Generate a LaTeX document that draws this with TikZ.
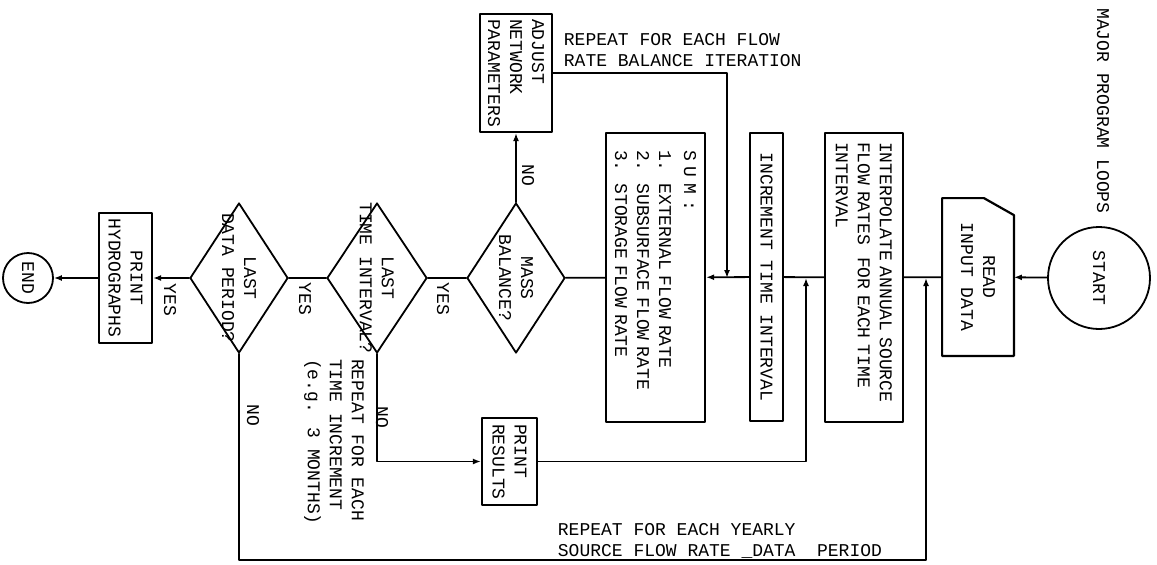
\documentclass[tikz,border=0pt]{standalone}
\usepackage{fontspec}
\setmainfont{Liberation Mono}
\usetikzlibrary{shapes.geometric,arrows.meta}

\begin{document}
\begin{tikzpicture}[x=1pt,y=-1pt,line cap=round,line join=round,
  font=\fontsize{18}{22}\selectfont,line width=1.8pt,
  arr/.style={-{Latex[length=8pt,width=6pt]}},
  vbox/.style={draw,rotate=-90,inner ysep=0pt,line width=2.2pt},
  decide/.style={draw,diamond,inner sep=0pt},
  term/.style={draw,circle,rotate=-90,inner sep=0pt},
  vtext/.style={rotate=-90,inner sep=0pt,align=center},
  note/.style={align=left,inner sep=0pt,anchor=west,font=\fontsize{18}{20.5}\selectfont}]
  \useasboundingbox (0,0) rectangle (1157,565);
  % main chain, right to left
  \node[term,minimum size=102pt] (start) at (1099,278) {START};
  \node[minimum width=70pt,minimum height=156pt,inner sep=0pt] (read) at (978,277) {};
  \draw[line width=2.2pt] (read.south west) -- (read.north west) -- ([xshift=-30pt]read.north east)
    -- ([yshift=-17pt]read.north east) -- (read.south east) -- cycle;
  \node[vtext] (readtxt) at (read) {READ\\INPUT DATA};
  \node[vbox,minimum width=289pt,minimum height=78pt,inner xsep=9pt,text width=271pt,align=left] (interp) at (864,277.5)
    {INTERPOLATE ANNUAL SOURCE\\FLOW RATES~~FOR EACH TIME\\INTERVAL};
  \node[vbox,minimum width=288pt,minimum height=33pt,align=center] (incr) at (766.5,277) {INCREMENT TIME INTERVAL};
  \node[vbox,minimum width=289pt,minimum height=99pt,inner xsep=17pt,text width=255pt,align=left] (sum) at (655.5,277.5)
    {S U M :\\[3pt]1.~~EXTERNAL FLOW RATE\\2.~~SUBSURFACE FLOW RATE\\3.~~STORAGE FLOW RATE};
  \node[decide,minimum width=98pt,minimum height=150pt] (mb) at (516,278) {};
  \node[vtext] (mbtxt) at (mb) {MASS\\BALANCE?};
  \node[vbox,minimum width=118pt,minimum height=72pt,inner xsep=5pt,text width=108pt,align=left] (adjust) at (516,73)
    {ADJUST\\NETWORK\\PARAMETERS};
  \node[decide,minimum width=100pt,minimum height=150pt] (lti) at (377,278) {};
  \node[vtext] (ltitxt) at (lti) {LAST\\TIME INTERVAL?};
  \node[decide,minimum width=98pt,minimum height=150pt] (ldp) at (239,278) {};
  \node[vtext] (ldptxt) at (ldp) {LAST\\DATA PERIOD?};
  \node[vbox,minimum width=130pt,minimum height=53pt,align=center] (hyd) at (125.5,278) {PRINT\\HYDROGRAPHS};
  \node[term,minimum size=50pt] (end) at (28,278) {END};
  \node[vbox,minimum width=87pt,minimum height=55pt,inner xsep=6pt,text width=75pt,align=left] (res) at (509.5,461.5)
    {PRINT\\RESULTS};
  % labels
  \node[vtext] (yes1) at (443,299) {YES};
  \node[vtext] (yes2) at (305,299) {YES};
  \node[vtext] (yes3) at (170,300) {YES};
  \node[vtext] (no1) at (528,175) {NO};
  \node[vtext] (no2) at (382,417) {NO};
  \node[vtext] (no3) at (253,415) {NO};
  \node[vtext,align=left] (tinote) at (334,442) {REPEAT FOR EACH\\TIME INCREMENT\\(e.g. 3 MONTHS)};
  \node[note] (flownote) at (563,50) {REPEAT FOR EACH FLOW\\RATE BALANCE ITERATION};
  \node[note] (yearnote) at (557,541) {REPEAT FOR EACH YEARLY\\SOURCE FLOW RATE \_DATA~~PERIOD};
  \node[vtext] (title) at (1103,111) {MAJOR PROGRAM LOOPS};
  % connectors
  \coordinate (j1) at (727,278);
  \coordinate (j2) at (806,278);
  \coordinate (j3) at (926,278);
  \draw[arr] (start) -- (read);
  \draw (read) -- (interp);
  \draw (interp) -- (incr);
  \draw[arr] (incr) -- (sum);
  \draw (sum) -- (mb);
  \draw (mb) -- (lti);
  \draw (lti) -- (ldp);
  \draw[arr] (ldp) -- (hyd);
  \draw[arr] (hyd) -- (end);
  \draw[arr] (mb) -- (adjust);
  \draw[arr] (adjust) -| (j1);
  \draw[arr] (res) -| (j2);
  \draw[arr] (lti.south) |- (res);
  \draw[arr] (ldp.south) -- ++(0,206) -| (j3);
\end{tikzpicture}
\end{document}
